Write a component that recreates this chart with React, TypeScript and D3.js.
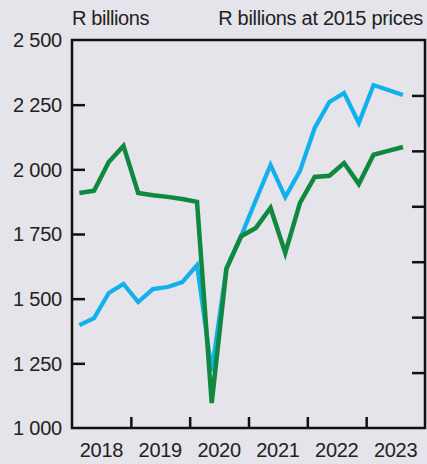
import React, { useEffect, useRef } from 'react'
import * as d3 from 'd3'

// quarters 2018Q1 .. 2023Q3
const quarters = [
  '2018Q1', '2018Q2', '2018Q3', '2018Q4',
  '2019Q1', '2019Q2', '2019Q3', '2019Q4',
  '2020Q1', '2020Q2', '2020Q3', '2020Q4',
  '2021Q1', '2021Q2', '2021Q3', '2021Q4',
  '2022Q1', '2022Q2', '2022Q3', '2022Q4',
  '2023Q1', '2023Q2', '2023Q3',
]
// nominal, R billions (left axis)
const nominal = [
  1398, 1425, 1522, 1557, 1487, 1537, 1545, 1564,
  1630, 1220, 1619, 1742, 1881, 2017, 1893, 1994,
  2160, 2260, 2295, 2179, 2326, 2307, 2287,
]
// real, R billions at 2015 prices (right axis, unlabelled)
const real = [
  1124, 1128, 1180, 1209, 1124, 1120, 1117, 1113,
  1108, 745, 987, 1046, 1061, 1097, 1016, 1106,
  1153, 1155, 1178, 1140, 1193, 1200, 1207,
]
const leftTicks = [1000, 1250, 1500, 1750, 2000, 2250, 2500]
const rightTicks = [800, 900, 1000, 1100, 1200, 1300]
const years = [2018, 2019, 2020, 2021, 2022, 2023]

function App() {
  const ref = useRef(null)
  useEffect(() => {
    const width = 427
    const height = 464
    const m = { top: 40, right: 2, bottom: 36, left: 72 }
    const svg = d3.select(ref.current)
    svg.selectAll('*').remove()
    svg.append('rect').attr('width', width).attr('height', height).attr('fill', '#e4e4ea')

    const x = d3.scaleLinear().domain([2018, 2024]).range([m.left, width - m.right])
    const yL = d3.scaleLinear().domain([1000, 2500]).range([height - m.bottom, m.top])
    const yR = d3.scaleLinear().domain([700, 1400]).range([height - m.bottom, m.top])
    const qx = (q) => x(+q.slice(0, 4) + (+q.slice(5) - 0.5) / 4)
    const fmt = (v) => d3.format(',')(v).replace(',', ' ')
    const font = '"Liberation Sans", Arial, sans-serif'

    // left axis ticks (inside)
    const axL = d3.axisRight(yL).tickValues(leftTicks.slice(1, -1)).tickSize(13).tickFormat(() => '')
    svg.append('g').attr('transform', `translate(${m.left},0)`).call(axL)
    // right axis ticks (inside)
    const axR = d3.axisLeft(yR).tickValues(rightTicks).tickSize(13).tickFormat(() => '')
    svg.append('g').attr('transform', `translate(${width - m.right},0)`).call(axR)
    // bottom ticks at year boundaries
    const axB = d3.axisTop(x).tickValues(years.slice(1)).tickSize(11).tickFormat(() => '')
    svg.append('g').attr('transform', `translate(0,${height - m.bottom})`).call(axB)
    svg.selectAll('.domain').remove()
    svg.selectAll('.tick line').attr('stroke', '#111').attr('stroke-width', 2.5)

    // frame
    svg.append('rect')
      .attr('x', m.left).attr('y', m.top)
      .attr('width', width - m.right - m.left).attr('height', height - m.bottom - m.top)
      .attr('fill', 'none').attr('stroke', '#111').attr('stroke-width', 2.5)

    // left labels
    svg.append('g').selectAll('text').data(leftTicks).enter().append('text')
      .attr('x', 62).attr('y', (d) => yL(d)).attr('dy', '0.36em')
      .attr('text-anchor', 'end').style('font-family', font).style('font-size', '20px')
      .attr('fill', '#222').style('letter-spacing', '-0.2px')
      .text((d) => fmt(d))
    // year labels
    svg.append('g').selectAll('text').data(years).enter().append('text')
      .attr('x', (d) => x(d + 0.5)).attr('y', 457)
      .attr('text-anchor', 'middle').style('font-family', font).style('font-size', '20px')
      .attr('fill', '#222').style('letter-spacing', '-0.3px')
      .text((d) => d)
    // unit labels
    svg.append('text').attr('x', m.left).attr('y', 25)
      .style('font-family', font).style('font-size', '20px').attr('fill', '#222')
      .style('letter-spacing', '-0.4px').text('R billions')
    svg.append('text').attr('x', width - 4).attr('y', 25).attr('text-anchor', 'end')
      .style('font-family', font).style('font-size', '20px').attr('fill', '#222')
      .style('letter-spacing', '-0.3px').text('R billions at 2015 prices')

    const lineL = d3.line().x((d, i) => qx(quarters[i])).y((d) => yL(d))
    const lineR = d3.line().x((d, i) => qx(quarters[i])).y((d) => yR(d))
    svg.append('path').datum(nominal).attr('d', lineL)
      .attr('fill', 'none').attr('stroke', '#12b0ec').attr('stroke-width', 4.2)
      .attr('stroke-linejoin', 'miter')
    svg.append('path').datum(real).attr('d', lineR)
      .attr('fill', 'none').attr('stroke', '#10893e').attr('stroke-width', 4.5)
      .attr('stroke-linejoin', 'miter')
  }, [])

  return (
    <svg ref={ref} width={427} height={464} style={{ position: 'absolute', left: 0, top: 0 }}></svg>
  )
}

export default App
